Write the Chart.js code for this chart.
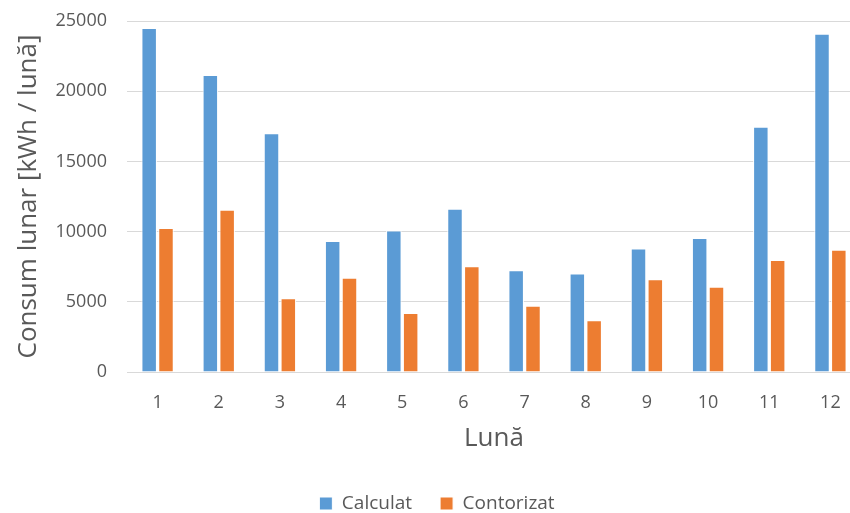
<!DOCTYPE html>
<html lang="ro">
<head>
    <meta charset="UTF-8">
    <script src="https://cdn.jsdelivr.net/npm/chart.js"></script>
    <title>Consum lunar</title>
    <style>
        body, html {
            margin: 0;
            padding: 0;
            background: #ffffff;
            overflow: hidden;
        }
        /* plot runs slightly past the right edge, as in the original (cropped) picture */
        #chart-container {
            width: 876px;
            height: 513px;
        }
    </style>
</head>
<body>
    <div id="chart-container">
        <canvas id="bar-chart-canvas"></canvas>
    </div>
    <script>
        const months = ["1", "2", "3", "4", "5", "6", "7", "8", "9", "10", "11", "12"];
        const calculat = [24500, 21150, 17000, 9330, 10070, 11620, 7250, 7010, 8800, 9550, 17460, 24090];
        const contorizat = [10260, 11550, 5250, 6720, 4200, 7540, 4720, 3680, 6610, 6080, 7970, 8710];
        const yTicks = [0, 5000, 10000, 15000, 20000, 25000];

        const textColor = '#595959';
        const fontFamily = '"Open Sans", "DejaVu Sans", sans-serif';

        let ctx = document.getElementById("bar-chart-canvas").getContext("2d");
        let barChart = new Chart(ctx, {
            type: 'bar',
            data: {
                labels: months,
                datasets: [{
                    label: 'Calculat',
                    data: calculat,
                    backgroundColor: '#5B9BD5',
                    borderColor: '#ffffff',
                    borderWidth: 1,
                    barPercentage: 0.92,
                    categoryPercentage: 0.55
                }, {
                    label: 'Contorizat',
                    data: contorizat,
                    backgroundColor: '#ED7D31',
                    borderColor: '#ffffff',
                    borderWidth: 1,
                    barPercentage: 0.92,
                    categoryPercentage: 0.55
                }]
            },
            options: {
                responsive: true,
                maintainAspectRatio: false,
                animation: false,
                layout: {
                    // negative bottom: legend's extra bottom padding falls off the canvas
                    padding: { left: 13, right: 15, top: 0, bottom: -10 }
                },
                scales: {
                    x: {
                        afterFit: (axis) => { axis.height = 94; },
                        grid: { display: false },
                        border: { color: '#d9d9d9', width: 1 },
                        ticks: {
                            color: textColor,
                            font: { family: fontFamily, size: 18 },
                            padding: 12
                        },
                        title: {
                            display: true,
                            text: 'Lună',
                            color: textColor,
                            font: { family: fontFamily, size: 26 },
                            padding: { top: 0, bottom: 12 }
                        }
                    },
                    y: {
                        min: 0,
                        max: 25000,
                        afterFit: (axis) => {
                            axis.width = 114;
                            axis.paddingTop = 21;
                        },
                        afterBuildTicks: (axis) => {
                            axis.ticks = yTicks.map(v => ({ value: v }));
                        },
                        grid: { color: '#d9d9d9', drawTicks: false },
                        border: { display: false },
                        ticks: {
                            color: textColor,
                            font: { family: fontFamily, size: 18 },
                            padding: 20,
                            callback: (value) => String(value)
                        },
                        title: {
                            display: true,
                            text: 'Consum lunar [kWh / lună]',
                            color: textColor,
                            font: { family: fontFamily, size: 26 },
                            padding: { top: 0, bottom: 8 }
                        }
                    }
                },
                plugins: {
                    legend: {
                        position: 'bottom',
                        labels: {
                            color: textColor,
                            font: { family: fontFamily, size: 19 },
                            boxWidth: 13,
                            boxHeight: 13,
                            padding: 28
                        }
                    },
                    tooltip: { enabled: false }
                }
            }
        });
    </script>
</body>
</html>
